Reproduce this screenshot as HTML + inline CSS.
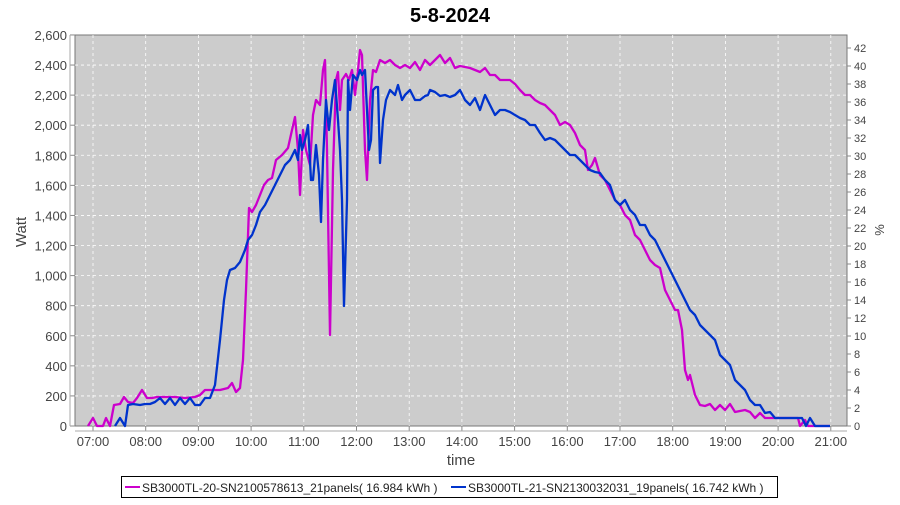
<!DOCTYPE html>
<html><head><meta charset="utf-8"><style>
body{margin:0;background:#fff;width:900px;height:500px;overflow:hidden}
text{font-family:"Liberation Sans",sans-serif}
</style></head><body>
<svg width="900" height="500" xmlns="http://www.w3.org/2000/svg">
<text x="450" y="22" text-anchor="middle" font-size="20" font-weight="bold" fill="#000">5-8-2024</text>
<rect x="75" y="35" width="772" height="391" fill="#cccccc" stroke="#777" stroke-width="1"/>
<g stroke="#fff" stroke-dasharray="3,3" stroke-width="0.8" id="grid"></g>
<g id="ticks" font-size="13" fill="#444"></g>
<text x="26" y="232" font-size="15" fill="#444" text-anchor="middle" transform="rotate(-90 26 232)">Watt</text>
<text x="884" y="230" font-size="13" fill="#444" text-anchor="middle" transform="rotate(-90 884 230)">%</text>
<text x="461" y="465" font-size="15" fill="#444" text-anchor="middle">time</text>
<polyline fill="none" stroke="#cc00cc" stroke-width="2.3" stroke-linejoin="round" points="88,426 93,418 97,426 103,426 106,418 110,426 114,405 120,404 124,397 128,402 133,403 137,398 142,390 147,398 152,398 157,397 165,397 175,397 185,398 195,397 200,395 205,390 210,390 220,390 228,388 232,383 236,392 240,388 243,360 246,290 249,208 252,212 256,205 260,195 264,185 268,180 272,178 276,160 282,155 288,148 292,130 295,117 298,150 300,195 303,130 306,150 310,165 313,115 316,100 320,105 323,70 325,60 327,150 330,335 333,170 336,80 338,72 340,110 342,80 346,74 349,80 352,70 355,95 358,70 360,50 362,55 365,150 367,180 370,100 373,70 376,72 380,60 385,63 390,60 395,65 400,68 405,65 410,68 415,62 420,70 425,60 430,65 435,60 440,55 445,63 450,58 455,68 460,66 470,68 480,72 485,68 490,75 495,75 500,80 510,80 515,84 520,90 525,95 530,95 535,100 540,103 545,105 550,110 555,115 560,125 565,122 570,125 575,133 580,145 585,150 588,170 592,165 595,158 600,175 605,180 610,190 615,200 620,205 625,215 630,220 635,235 640,240 645,250 650,260 655,265 660,268 665,290 670,300 675,310 678,310 682,330 685,370 688,380 690,375 695,395 700,405 705,406 710,404 715,410 720,405 725,410 730,404 735,412 740,411 745,410 750,412 755,418 760,413 765,418 770,418 780,418 790,418 798,418 800,426 805,420 808,426 830,426"/>
<polyline fill="none" stroke="#0033cc" stroke-width="2.3" stroke-linejoin="round" points="115,426 120,418 125,426 128,405 133,404 140,405 145,404 150,404 155,402 160,398 165,404 170,398 175,405 180,398 185,404 190,398 195,405 200,405 205,398 210,398 215,385 220,340 224,300 227,280 230,270 235,268 240,262 245,250 248,240 252,235 256,225 260,212 265,205 270,195 275,185 280,175 285,165 290,160 295,150 298,160 300,135 302,150 305,140 308,125 311,180 313,180 316,145 319,175 321,222 323,160 326,100 329,130 332,100 335,80 338,120 340,150 342,200 344,306 347,200 348,80 350,110 353,75 357,80 360,70 362,75 365,70 367,110 369,150 371,140 373,90 376,87 378,87 380,163 383,120 386,100 390,90 395,95 398,85 402,100 405,95 410,90 415,100 420,100 425,96 428,95 430,90 435,92 440,96 445,95 450,97 455,95 460,90 465,100 470,105 475,98 480,110 485,95 490,105 495,115 500,110 505,110 510,112 515,115 520,118 525,120 530,125 535,125 540,133 545,140 550,138 555,140 560,145 565,150 570,155 575,155 580,160 585,165 590,170 595,172 600,173 605,180 610,185 615,200 620,205 625,200 630,210 635,215 640,225 645,225 650,235 655,240 660,250 665,260 670,270 675,280 680,290 685,300 690,310 695,315 700,325 705,330 710,335 715,340 720,355 725,360 730,365 735,380 740,385 745,390 750,400 755,405 760,405 765,413 770,412 775,418 780,418 790,418 797,418 802,418 806,426 810,418 815,426 830,426"/>
<rect x="121.5" y="476.5" width="656" height="21" fill="#fff" stroke="#000"/>
<line x1="125" y1="487" x2="140" y2="487" stroke="#cc00cc" stroke-width="2"/>
<text x="142" y="492" font-size="12" fill="#222">SB3000TL-20-SN2100578613_21panels( 16.984 kWh )</text>
<line x1="451" y1="487" x2="466" y2="487" stroke="#0033cc" stroke-width="2"/>
<text x="468" y="492" font-size="12" fill="#222">SB3000TL-21-SN2130032031_19panels( 16.742 kWh )</text>
</svg>
<script>
var ns="http://www.w3.org/2000/svg",g=document.getElementById('grid'),t=document.getElementById('ticks');
function el(p,tag,a,txt){var e=document.createElementNS(ns,tag);for(var k in a)e.setAttribute(k,a[k]);if(txt!==undefined)e.textContent=txt;p.appendChild(e);return e;}
for(var i=0;i<=13;i++){var y=426-i*200*0.1504;
 if(i>0&&i<13)el(g,'line',{x1:75,x2:847,y1:y,y2:y});
 el(t,'line',{x1:70,x2:75,y1:y,y2:y,stroke:'#888'});
 el(t,'text',{x:67,y:y+5,'text-anchor':'end'},(i*200).toLocaleString('en-US'));}
for(var h=7;h<=21;h++){var x=93+52.7*(h-7);
 el(g,'line',{x1:x,x2:x,y1:35,y2:426});
 el(t,'line',{x1:x,x2:x,y1:426,y2:431,stroke:'#888'});
 el(t,'text',{x:x,y:446,'text-anchor':'middle'},(h<10?'0':'')+h+':00');}
for(var p=0;p<=42;p+=2){var y=426-p*9;
 el(t,'line',{x1:847,x2:851,y1:y,y2:y,stroke:'#888'});
 el(t,'text',{x:854,y:y+4,'font-size':'11'},String(p));}
el(t,'line',{x1:70,x2:70,y1:35,y2:426,stroke:'#aaa'});
el(t,'line',{x1:75,x2:847,y1:431,y2:431,stroke:'#aaa'});
</script>
</body></html>
